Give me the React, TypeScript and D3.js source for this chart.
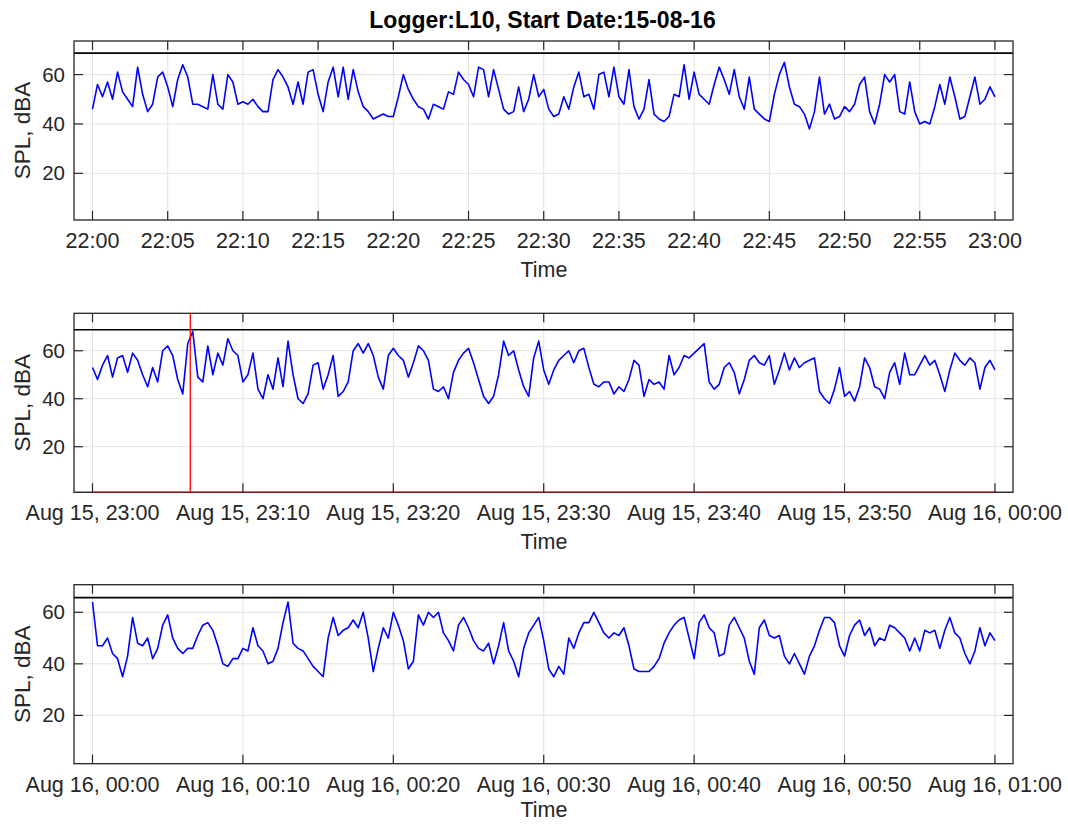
import * as d3 from "d3";

const TITLE = "Logger:L10, Start Date:15-08-16";
const SAMPLE_SEC = 20;

// start of each one-hour panel
const hourStarts = ["2016-08-15 22:00:00", "2016-08-15 23:00:00", "2016-08-16 00:00:00"];

// SPL (dBA) every 20 s
const spl1 = [
  46, 56, 51, 57, 50, 61, 53, 50, 47, 63, 52, 45, 48, 59, 61, 55, 47, 58, 64, 59, 48, 48, 47, 46, 60, 48, 46, 60, 57, 48,
  49, 48, 50, 47, 45, 45, 58, 62, 59, 55, 48, 57, 48, 61, 62, 52, 45, 57, 63, 51, 63, 50, 62, 53, 47, 45, 42, 43, 44, 43,
  43, 51, 60, 54, 50, 47, 46, 42, 48, 47, 46, 53, 52, 61, 58, 56, 51, 63, 62, 51, 62, 54, 46, 44, 45, 55, 45, 50, 60, 51,
  54, 46, 43, 44, 51, 46, 55, 61, 51, 52, 46, 60, 61, 51, 63, 51, 48, 62, 47, 42, 46, 58, 44, 42, 41, 43, 52, 51, 64, 50,
  61, 52, 50, 48, 56, 63, 58, 52, 62, 51, 46, 59, 46, 44, 42, 41, 52, 60, 65, 55, 48, 47, 44, 38, 45, 59, 44, 48, 42, 43,
  47, 45, 48, 56, 59, 45, 40, 48, 60, 57, 60, 45, 44, 57, 45, 40, 41, 40, 47, 56, 48, 59, 51, 42, 43, 51, 59, 48, 50, 55,
  51,
];
const spl2 = [
  53, 48, 54, 58, 49, 57, 58, 51, 59, 56, 50, 45, 53, 47, 60, 62, 58, 48, 42, 63, 68, 49, 47, 62, 50, 59, 54, 65, 60, 58,
  47, 50, 59, 44, 40, 50, 44, 57, 45, 64, 50, 40, 38, 42, 54, 55, 44, 50, 58, 41, 43, 47, 60, 63, 59, 63, 58, 49, 44, 58,
  61, 58, 56, 49, 55, 62, 60, 56, 44, 43, 45, 40, 51, 56, 59, 61, 55, 48, 41, 38, 41, 50, 64, 58, 60, 52, 45, 41, 57, 64,
  52, 46, 52, 56, 58, 60, 55, 60, 61, 53, 46, 45, 47, 47, 42, 45, 43, 48, 56, 54, 41, 48, 46, 47, 44, 58, 50, 53, 58, 57,
  59, 61, 63, 47, 44, 46, 53, 55, 51, 42, 48, 56, 58, 55, 54, 58, 46, 52, 59, 52, 57, 53, 55, 56, 57, 43, 40, 38, 44, 53,
  41, 43, 39, 45, 57, 53, 45, 44, 40, 51, 55, 46, 59, 50, 50, 54, 58, 54, 56, 50, 43, 52, 59, 56, 54, 57, 55, 44, 53, 56,
  52,
];
const spl3 = [
  64, 47, 47, 50, 44, 42, 35, 43, 58, 48, 47, 50, 42, 46, 55, 59, 50, 46, 44, 46, 46, 51, 55, 56, 53, 47, 40, 39, 42, 42,
  46, 45, 54, 47, 45, 40, 41, 46, 56, 64, 48, 46, 45, 42, 39, 37, 35, 50, 58, 51, 53, 54, 57, 54, 60, 50, 37, 46, 54, 50,
  60, 55, 49, 38, 41, 59, 55, 60, 58, 60, 52, 49, 45, 55, 58, 54, 49, 46, 45, 48, 40, 47, 56, 45, 41, 35, 46, 52, 55, 58,
  49, 38, 35, 39, 36, 50, 46, 52, 56, 56, 60, 56, 52, 50, 52, 51, 54, 47, 38, 37, 37, 37, 39, 42, 48, 52, 55, 57, 58, 50,
  42, 56, 59, 54, 52, 43, 44, 55, 58, 54, 50, 41, 36, 54, 57, 51, 50, 51, 43, 40, 44, 40, 36, 43, 47, 53, 58, 58, 56, 47,
  43, 51, 55, 57, 51, 54, 47, 50, 49, 55, 54, 52, 50, 45, 50, 45, 53, 52, 53, 46, 53, 58, 52, 50, 44, 40, 45, 54, 47, 52,
  49,
];

const yMin = [1.1, 1.0, 1.25];
const yMax = [73.6, 75.6, 70.7];
const limitLevel = [68.7, 68.75, 65.7];
const yTicks = [20, 40, 60];
const tickStepMin = [5, 10, 10];
const tickFormats = ["%H:%M", "%b %d, %H:%M", "%b %d, %H:%M"];

// event flag shown in the second panel
const flagTimes2 = ["2016-08-15 23:00:00", "2016-08-15 23:06:30", "2016-08-15 23:06:30", "2016-08-15 23:06:30", "2016-08-16 00:00:00"];
const flagValues2 = [0, 0, 100, 0, 0];

const W = 1068;
const H = 824;
const LEFT = 74;
const RIGHT = 1013;
const PANEL_TOPS = [41, 313.3, 584.7];
const PANEL_H = 179;
const TXT = "#262626";
const FONT = "'Liberation Sans', Arial, Helvetica, sans-serif";
const TICK_LEN = 9;

const parse = d3.timeParse("%Y-%m-%d %H:%M:%S");
const series = [spl1, spl2, spl3];

function Panel({ idx }: { idx: number }) {
  const start = parse(hourStarts[idx]) as Date;
  const end = d3.timeMinute.offset(start, 60);
  const top = PANEL_TOPS[idx];
  const bottom = top + PANEL_H;
  const x = d3
    .scaleTime()
    .domain([new Date(start.getTime() - 1.23 * 60000), new Date(start.getTime() + 61.2 * 60000)])
    .range([LEFT, RIGHT]);
  const y = d3.scaleLinear().domain([yMin[idx], yMax[idx]]).range([bottom, top]);
  const yc = y.copy().clamp(true);
  const xTicks = d3.timeMinute.every(tickStepMin[idx])!.range(start, d3.timeSecond.offset(end, 1));
  const fmt = d3.timeFormat(tickFormats[idx]);
  const values = series[idx];
  const line = d3
    .line<number>()
    .x((_, i) => x(d3.timeSecond.offset(start, i * SAMPLE_SEC)))
    .y((d) => y(d));
  const clipId = `clip${idx}`;

  let flagPath: string | null = null;
  if (idx === 1) {
    const pts = flagTimes2.map((t, i) => [x(parse(t) as Date), yc(flagValues2[i])] as [number, number]);
    flagPath = d3.line()(pts);
  }

  return (
    <g>
      <defs>
        <clipPath id={clipId}>
          <rect x={LEFT} y={top} width={RIGHT - LEFT} height={PANEL_H} />
        </clipPath>
      </defs>
      <rect x={LEFT} y={top} width={RIGHT - LEFT} height={PANEL_H} fill="#fff" />
      {xTicks.map((t, i) => (
        <line key={`gx${i}`} x1={x(t)} x2={x(t)} y1={top} y2={bottom} stroke="#e2e2e2" strokeWidth={1} />
      ))}
      {yTicks.map((v) => (
        <line key={`gy${v}`} x1={LEFT} x2={RIGHT} y1={y(v)} y2={y(v)} stroke="#e2e2e2" strokeWidth={1} />
      ))}
      <line x1={LEFT} x2={RIGHT} y1={y(limitLevel[idx])} y2={y(limitLevel[idx])} stroke="#000" strokeWidth={1.6} />
      <path
        d={line(values) ?? ""}
        fill="none"
        stroke="#0000ff"
        strokeWidth={1.6}
        strokeLinejoin="round"
        clipPath={`url(#${clipId})`}
      />
      <rect x={LEFT} y={top} width={RIGHT - LEFT} height={PANEL_H} fill="none" stroke={TXT} strokeWidth={1.3} />
      {flagPath && (
        <g>
          <path d={flagPath} fill="none" stroke="#ff0000" strokeWidth={1.3} />
          <line x1={LEFT} x2={RIGHT} y1={bottom} y2={bottom} stroke={TXT} strokeWidth={1.3} opacity={0.55} />
        </g>
      )}
      {xTicks.map((t, i) => (
        <g key={`tx${i}`}>
          <line x1={x(t)} x2={x(t)} y1={bottom} y2={bottom - TICK_LEN} stroke={TXT} strokeWidth={1.2} />
          <line x1={x(t)} x2={x(t)} y1={top} y2={top + TICK_LEN} stroke={TXT} strokeWidth={1.2} />
          <text x={x(t)} y={bottom + 28} textAnchor="middle" fontSize={21.5} fill={TXT} fontFamily={FONT}>
            {fmt(t)}
          </text>
        </g>
      ))}
      {yTicks.map((v) => (
        <g key={`ty${v}`}>
          <line x1={LEFT} x2={LEFT + TICK_LEN} y1={y(v)} y2={y(v)} stroke={TXT} strokeWidth={1.2} />
          <line x1={RIGHT} x2={RIGHT - TICK_LEN} y1={y(v)} y2={y(v)} stroke={TXT} strokeWidth={1.2} />
          <text x={65} y={y(v) + 7} textAnchor="end" fontSize={20.5} fill={TXT} fontFamily={FONT}>
            {v}
          </text>
        </g>
      ))}
      <text
        x={(LEFT + RIGHT) / 2 + 0.5}
        y={Math.min(bottom + 57, H - 7)}
        textAnchor="middle"
        fontSize={21.5}
        fill={TXT}
        fontFamily={FONT}
      >
        Time
      </text>
      <text
        transform={`translate(30,${(top + bottom) / 2}) rotate(-90)`}
        textAnchor="middle"
        fontSize={22.5}
        fill={TXT}
        fontFamily={FONT}
      >
        SPL, dBA
      </text>
    </g>
  );
}

export default function App() {
  return (
    <svg width={W} height={H} style={{ position: "absolute", left: 0, top: 0, background: "#fff" }}>
      <rect width={W} height={H} fill="#fff" />
      <text x={542.5} y={27.5} textAnchor="middle" fontSize={23} fontWeight="bold" fill="#000" fontFamily={FONT}>
        {TITLE}
      </text>
      {[0, 1, 2].map((i) => (
        <Panel key={i} idx={i} />
      ))}
    </svg>
  );
}
